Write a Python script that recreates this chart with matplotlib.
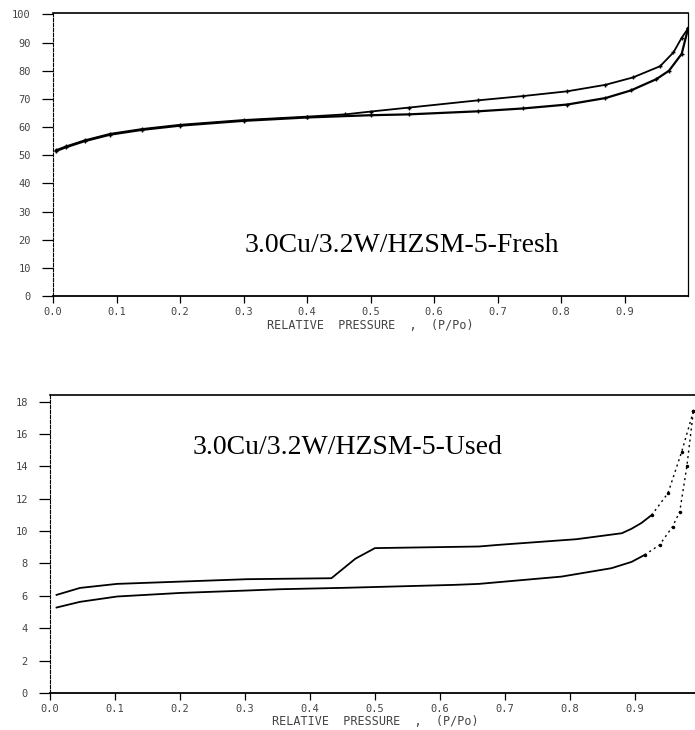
import numpy as np
import matplotlib
matplotlib.use('Agg')
import matplotlib.pyplot as plt

# fresh sample, adsorption (lower) and desorption (upper) branches
fresh_ads_x = [0.005, 0.02, 0.05, 0.09, 0.14, 0.2, 0.3, 0.4, 0.5, 0.56, 0.67, 0.74, 0.81, 0.87,
               0.91, 0.95, 0.97, 0.99, 1.0]
fresh_ads_y = [51.5, 52.8, 55.0, 57.3, 59.0, 60.5, 62.2, 63.4, 64.2, 64.5, 65.6, 66.6, 68.0, 70.3,
               73.0, 77.0, 80.0, 86.0, 95.0]
fresh_des_x = [1.0, 0.99, 0.977, 0.956, 0.913, 0.87, 0.81, 0.74, 0.67, 0.56, 0.5, 0.46, 0.4,
               0.3, 0.2, 0.14, 0.09, 0.05, 0.02, 0.005]
fresh_des_y = [95.0, 91.7, 86.5, 81.6, 77.6, 75.0, 72.7, 71.0, 69.5, 66.9, 65.5, 64.5, 63.7,
               62.5, 60.8, 59.3, 57.6, 55.3, 53.1, 51.8]

# used sample
used_ads_x = [0.01, 0.046, 0.103, 0.2, 0.303, 0.354, 0.456, 0.623, 0.66, 0.787, 0.864, 0.895,
              0.915, 0.938, 0.958, 0.969, 0.98, 0.99]
used_ads_y = [5.28, 5.63, 5.96, 6.18, 6.33, 6.41, 6.50, 6.68, 6.74, 7.19, 7.71, 8.1,
              8.53, 9.15, 10.28, 11.2, 14.0, 17.4]
used_des_x = [0.99, 0.972, 0.951, 0.926, 0.91, 0.895, 0.88, 0.81, 0.69, 0.66, 0.5, 0.47,
              0.433, 0.303, 0.2, 0.103, 0.046, 0.01]
used_des_y = [17.4, 14.9, 12.35, 11.0, 10.5, 10.15, 9.87, 9.5, 9.15, 9.05, 8.95, 8.3,
              7.09, 7.03, 6.88, 6.74, 6.49, 6.06]

xticks = [0.0, 0.1, 0.2, 0.3, 0.4, 0.5, 0.6, 0.7, 0.8, 0.9]
top_yticks = [0, 10, 20, 30, 40, 50, 60, 70, 80, 90, 100]
bot_yticks = [0, 2, 4, 6, 8, 10, 12, 14, 16, 18]
xlabel = 'RELATIVE  PRESSURE  ,  (P/Po)'

mono = 'DejaVu Sans Mono'
grey = '#444444'

fig = plt.figure(figsize=(6.95, 7.3), dpi=100)
ax1 = fig.add_axes([0.0763, 0.5945, 0.9137, 0.3877])
ax2 = fig.add_axes([0.072, 0.0507, 0.935, 0.408])


def style(ax, yticks):
    ax.set_xticks(xticks)
    ax.set_xticklabels(['%.1f' % t for t in xticks], family=mono, fontsize=7.5, color=grey)
    ax.set_yticks(yticks)
    ax.set_yticklabels([str(t) for t in yticks], family=mono, fontsize=7.5, color=grey)
    ax.tick_params(axis='y', direction='out', length=8, width=0.9, pad=8)
    ax.tick_params(axis='x', direction='out', length=5, width=0.9, pad=3)
    ax.spines['left'].set_linestyle((0, (3, 1.5)))
    ax.spines['left'].set_linewidth(0.8)
    ax.spines['bottom'].set_linewidth(1.3)
    ax.spines['top'].set_linewidth(1.2)
    ax.spines['right'].set_linewidth(0.9)
    ax.set_xlabel(xlabel, family=mono, fontsize=8.5, color=grey, labelpad=1)


# top panel
ax1.plot(fresh_ads_x, fresh_ads_y, color='black', lw=1.6, marker='+', ms=3)
ax1.plot(fresh_des_x, fresh_des_y, color='black', lw=1.3, marker='+', ms=3)
ax1.set_xlim(0, 1.0)
ax1.set_ylim(0, 100.5)
style(ax1, top_yticks)
ax1.text(0.302, 18, '3.0Cu/3.2W/HZSM-5-Fresh', family='Liberation Serif', fontsize=20,
         ha='left', va='center')

# bottom panel, sparse dotted ends near saturation
ux = np.array(used_ads_x)
uy = np.array(used_ads_y)
dx = np.array(used_des_x)
dy = np.array(used_des_y)
m = ux <= 0.915
ax2.plot(ux[m], uy[m], color='black', lw=1.3)
ax2.plot(ux[ux >= 0.915], uy[ux >= 0.915], color='black', lw=1.0, ls=(0, (1.5, 2.5)),
         marker='.', ms=3)
m = dx <= 0.926
ax2.plot(dx[m], dy[m], color='black', lw=1.3)
ax2.plot(dx[dx >= 0.926], dy[dx >= 0.926], color='black', lw=1.0, ls=(0, (1.5, 2.5)),
         marker='.', ms=3)
ax2.set_xlim(0, 1.0)
ax2.set_ylim(0, 18.4)
style(ax2, bot_yticks)
ax2.spines['top'].set_linestyle((0, (4, 1)))
ax2.text(0.22, 15.15, '3.0Cu/3.2W/HZSM-5-Used', family='Liberation Serif', fontsize=20,
         ha='left', va='center')

fig.savefig('out.png', dpi=100)
